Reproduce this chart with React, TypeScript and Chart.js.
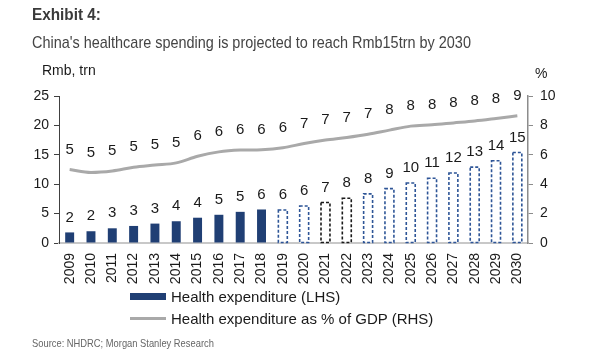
import React, { useEffect, useRef } from "react";
import { Chart, registerables } from "chart.js";

Chart.register(...registerables);

const years = ["2009","2010","2011","2012","2013","2014","2015","2016","2017","2018","2019","2020","2021","2022","2023","2024","2025","2026","2027","2028","2029","2030"];
const spendTrn = [1.8, 2.0, 2.5, 2.9, 3.3, 3.7, 4.3, 4.8, 5.3, 5.7, 5.6, 6.3, 6.9, 7.6, 8.35, 9.25, 10.2, 11.0, 11.9, 12.9, 14.0, 15.4];
const pctGdp = [5.0, 4.8, 4.9, 5.15, 5.3, 5.45, 5.9, 6.2, 6.32, 6.35, 6.48, 6.77, 7.0, 7.18, 7.4, 7.68, 7.95, 8.04, 8.17, 8.3, 8.47, 8.65];
const forecastFrom = "2019";
const blackDashedYears = ["2021", "2022"];
const leftTicks = [0, 5, 10, 15, 20, 25];
const rightTicks = [0, 2, 4, 6, 8, 10];

const NAVY = "#203F74";
const DASH_NAVY = "#2E5597";
const GREY_LINE = "#A9A9A9";
const FONT = "'Liberation Sans', Arial, sans-serif";

const labelPlugin = {
  id: "valueLabels",
  afterDatasetsDraw(chart: any) {
    const ctx = chart.ctx;
    const fIdx = years.indexOf(forecastFrom);
    const barMeta = chart.getDatasetMeta(0);
    const lineMeta = chart.getDatasetMeta(1);
    ctx.save();
    barMeta.data.forEach((el: any, i: number) => {
      if (i < fIdx) return;
      const p = el.getProps(["x", "y", "base", "width"], true);
      ctx.setLineDash([3, 2]);
      ctx.lineWidth = 1.6;
      ctx.strokeStyle = blackDashedYears.includes(years[i]) ? "#1a1a1a" : DASH_NAVY;
      ctx.strokeRect(p.x - p.width / 2, p.y, p.width, p.base - p.y);
    });
    ctx.setLineDash([]);
    ctx.fillStyle = "#1a1a1a";
    ctx.font = `15px ${FONT}`;
    ctx.textAlign = "center";
    ctx.textBaseline = "middle";
    barMeta.data.forEach((el: any, i: number) => {
      const p = el.getProps(["x", "y"], true);
      ctx.fillText(String(Math.round(spendTrn[i])), p.x, p.y - 15);
    });
    lineMeta.data.forEach((el: any, i: number) => {
      const p = el.getProps(["x", "y"], true);
      ctx.fillText(String(Math.round(pctGdp[i])), p.x, p.y - 20);
    });
    ctx.restore();
  },
};

export default function App() {
  const ref = useRef<HTMLCanvasElement>(null);
  useEffect(() => {
    if (!ref.current) return;
    const fIdx = years.indexOf(forecastFrom);
    const chart = new Chart(ref.current, {
      type: "bar",
      data: {
        labels: years,
        datasets: [
          {
            type: "bar",
            label: "Health expenditure (LHS)",
            data: spendTrn,
            yAxisID: "y",
            backgroundColor: years.map((_, i) => (i < fIdx ? NAVY : "#ffffff")),
            borderWidth: 0,
            barPercentage: 0.42,
            categoryPercentage: 1,
            order: 2,
          },
          {
            type: "line",
            label: "Health expenditure as % of GDP (RHS)",
            data: pctGdp,
            yAxisID: "y1",
            borderColor: GREY_LINE,
            borderWidth: 3,
            pointRadius: 0,
            tension: 0.4,
            cubicInterpolationMode: "monotone",
            order: 1,
          },
        ],
      } as any,
      options: {
        animation: false,
        responsive: false,
        maintainAspectRatio: false,
        layout: { padding: { top: 96, left: 20, right: 30, bottom: 70 } },
        plugins: { legend: { display: false }, tooltip: { enabled: false } },
        scales: {
          x: {
            offset: true,
            grid: { display: false, drawTicks: false },
            border: { display: true, color: "#C8C8C8", width: 2 },
            ticks: {
              minRotation: 90,
              maxRotation: 90,
              autoSkip: false,
              padding: 10,
              color: "#1a1a1a",
              font: { family: FONT, size: 14 },
            },
            afterFit: (s: any) => { s.height = 47; },
          },
          y: {
            position: "left",
            min: 0,
            max: 25,
            afterBuildTicks: (s: any) => { s.ticks = leftTicks.map((v) => ({ value: v })); },
            grid: { drawOnChartArea: false, drawTicks: true, tickLength: 5, color: "#404040" },
            border: { display: true, color: "#404040", width: 1 },
            ticks: { padding: 5, color: "#1a1a1a", font: { family: FONT, size: 14 } },
            afterFit: (s: any) => { s.width = 39; },
          },
          y1: {
            position: "right",
            min: 0,
            max: 10,
            afterBuildTicks: (s: any) => { s.ticks = rightTicks.map((v) => ({ value: v })); },
            grid: { drawOnChartArea: false, drawTicks: true, tickLength: 5, color: "#8c8c8c" },
            border: { display: true, color: "#8c8c8c", width: 1.5 },
            ticks: { padding: 7, color: "#1a1a1a", font: { family: FONT, size: 14 } },
            afterFit: (s: any) => { s.width = 42; },
          },
        },
      } as any,
      plugins: [labelPlugin],
    });
    return () => chart.destroy();
  }, []);

  const abs = (left: number, top: number): React.CSSProperties => ({
    position: "absolute",
    left,
    top,
    whiteSpace: "nowrap",
    lineHeight: 1,
  });

  return (
    <div style={{ position: "absolute", left: 0, top: 0, width: 600, height: 360, background: "#fff", fontFamily: FONT, overflow: "hidden" }}>
      <canvas ref={ref} width={600} height={360} style={{ position: "absolute", left: 0, top: 0, width: 600, height: 360 }} />
      <div style={{ ...abs(32, 6), fontWeight: "bold", fontSize: 17, color: "#3a3a3a", transform: "scaleX(0.9)", transformOrigin: "left center" }}>Exhibit 4:</div>
      <div style={{ ...abs(32, 34), fontSize: 17, color: "#444", transform: "scaleX(0.85)", transformOrigin: "left center" }}>
        China's healthcare spending is projected to reach Rmb15trn by 2030
      </div>
      <div style={{ ...abs(42, 63), fontSize: 14, color: "#1a1a1a" }}>Rmb, trn</div>
      <div style={{ ...abs(535, 66), fontSize: 14, color: "#1a1a1a" }}>%</div>
      <div style={{ ...abs(130, 289), display: "flex", alignItems: "center", fontSize: 15, color: "#1a1a1a" }}>
        <span style={{ display: "inline-block", width: 36, height: 7, background: NAVY, marginRight: 5 }} />
        <span>Health expenditure (LHS)</span>
      </div>
      <div style={{ ...abs(130, 311), display: "flex", alignItems: "center", fontSize: 15, color: "#1a1a1a" }}>
        <span style={{ display: "inline-block", width: 36, height: 3, background: GREY_LINE, marginRight: 5 }} />
        <span>Health expenditure as % of GDP (RHS)</span>
      </div>
      <div style={{ ...abs(32, 338), fontSize: 11, color: "#666", transform: "scaleX(0.85)", transformOrigin: "left center" }}>
        Source: NHDRC; Morgan Stanley Research
      </div>
    </div>
  );
}
